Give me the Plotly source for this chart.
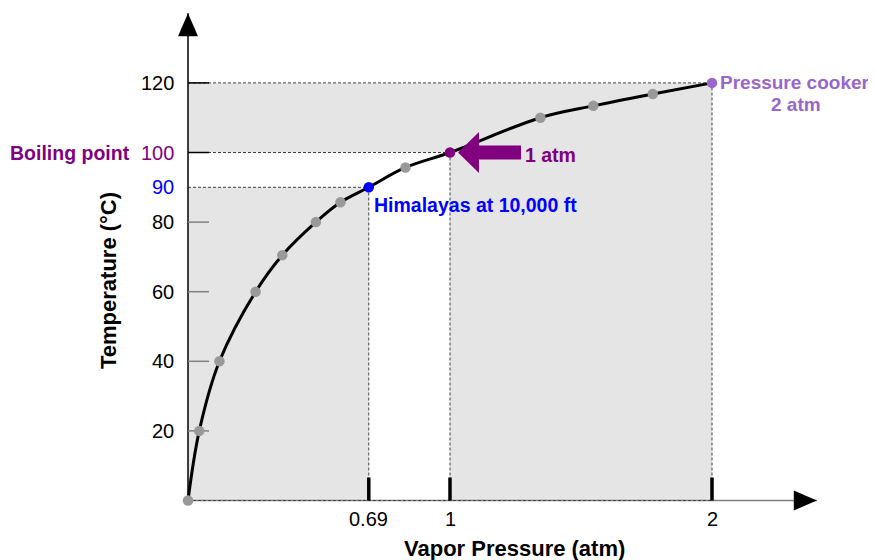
import plotly.graph_objects as go

# ---------------- data ----------------
pressure_atm = [0.0, 0.043, 0.120, 0.258, 0.360, 0.488, 0.582, 0.69, 0.830, 1.0, 1.345, 1.547, 1.774, 2.0]
temperature_c = [0, 20, 40, 60, 70.5, 80, 85.7, 90, 95.7, 100, 110, 113.4, 116.8, 120]

highlight_x = [0.69, 1.0, 2.0]
highlight_y = [90, 100, 120]
highlight_colors = ["#0000ff", "#800080", "#9966cc"]

ytick_vals = [20, 40, 60, 80, 90, 100, 120]
ytick_text = ["20", "40", "60", "80", "90", "100", "120"]
ytick_colors = ["#000000", "#000000", "#000000", "#000000", "#0000ff", "#800080", "#000000"]
ytick_marks = [20, 40, 60, 80, 100, 120]
ytick_mark_colors = ["#808080", "#808080", "#808080", "#808080", "#000000", "#000000"]

xtick_vals = [0.69, 1.0, 2.0]
xtick_text = ["0.69", "1", "2"]

x_axis_end = 2.40
y_axis_end = 140.0

FONT = "Liberation Sans, Arial, sans-serif"
PURPLE = "#800080"
BLUE = "#0000ff"
LILAC = "#9966cc"
GREY_FILL = "#e5e5e5"
DASH_COLOR = "#404040"

# page offset (browser body margin)
OFF = 8
W, H = 876 - OFF, 560 - OFF
X0_PX, X_SCALE = 188.0 - OFF, 262.0
Y0_PX, Y_SCALE = 500.5 - OFF, 3.48

fig = go.Figure()

# smooth curve
fig.add_trace(go.Scatter(
    x=pressure_atm, y=temperature_c, mode="lines",
    line=dict(color="black", width=3, shape="spline", smoothing=1.0),
    hoverinfo="skip", showlegend=False, cliponaxis=False))

hl = list(zip(highlight_x, highlight_y))
gx = [p for p, t in zip(pressure_atm, temperature_c) if (p, t) not in hl]
gy = [t for p, t in zip(pressure_atm, temperature_c) if (p, t) not in hl]
fig.add_trace(go.Scatter(
    x=gx, y=gy, mode="markers",
    marker=dict(color="#999999", size=10.5, line=dict(width=0)),
    showlegend=False, cliponaxis=False))

fig.add_trace(go.Scatter(
    x=highlight_x, y=highlight_y, mode="markers",
    marker=dict(color=highlight_colors, size=10.5, line=dict(width=0)),
    showlegend=False, cliponaxis=False))

shapes = []
shapes.append(dict(type="rect", xref="x", yref="y", x0=0, x1=highlight_x[2], y0=0, y1=highlight_y[2],
                   fillcolor=GREY_FILL, line=dict(width=0), layer="below"))
shapes.append(dict(type="rect", xref="x", yref="y", x0=0, x1=highlight_x[1], y0=highlight_y[0], y1=highlight_y[1],
                   fillcolor="white", line=dict(width=0), layer="below"))
shapes.append(dict(type="rect", xref="x", yref="y", x0=highlight_x[0], x1=highlight_x[1], y0=0, y1=highlight_y[1],
                   fillcolor="white", line=dict(width=0), layer="below"))

dash = dict(color=DASH_COLOR, width=1, dash="3px,2px")
for hx, hy in zip(highlight_x, highlight_y):
    shapes.append(dict(type="line", xref="x", yref="y", x0=0, x1=hx, y0=hy, y1=hy, line=dash, layer="below"))
    shapes.append(dict(type="line", xref="x", yref="y", x0=hx, x1=hx, y0=0, y1=hy, line=dash, layer="below"))

shapes.append(dict(type="line", xref="x", yref="y", x0=0, x1=x_axis_end, y0=0, y1=0,
                   line=dict(color="#808080", width=1.5), layer="below"))
shapes.append(dict(type="line", xref="x", yref="y", x0=0, x1=highlight_x[2], y0=0, y1=0, line=dash, layer="below"))
shapes.append(dict(type="line", xref="x", yref="y", x0=0, x1=0, y0=0, y1=y_axis_end,
                   line=dict(color="black", width=1.5), layer="below"))

shapes.append(dict(type="path", xref="x", yref="y", xsizemode="pixel", ysizemode="pixel",
                   xanchor=x_axis_end, yanchor=0, path="M -23,-10 L 0,0 L -23,10 Z",
                   fillcolor="black", line=dict(width=0)))
shapes.append(dict(type="path", xref="x", yref="y", xsizemode="pixel", ysizemode="pixel",
                   xanchor=0, yanchor=y_axis_end, path="M -10,-23 L 0,0 L 10,-23 Z",
                   fillcolor="black", line=dict(width=0)))

for v, c in zip(ytick_marks, ytick_mark_colors):
    shapes.append(dict(type="line", xref="x", yref="y", xsizemode="pixel", xanchor=0,
                       x0=0, x1=21, y0=v, y1=v, line=dict(color=c, width=1.5), layer="below"))
for v in xtick_vals:
    shapes.append(dict(type="line", xref="x", yref="y", ysizemode="pixel", yanchor=0,
                       x0=v, x1=v, y0=0, y1=23, line=dict(color="black", width=3.5), layer="below"))

shapes.append(dict(type="path", xref="x", yref="y", xsizemode="pixel", ysizemode="pixel",
                   xanchor=highlight_x[1], yanchor=highlight_y[1],
                   path="M 8,0 L 29,20.5 L 29,7 L 71,7 L 71,-7 L 29,-7 L 29,-20.5 Z",
                   fillcolor=PURPLE, line=dict(width=0)))

annotations = []
for v, t, c in zip(ytick_vals, ytick_text, ytick_colors):
    annotations.append(dict(x=0, y=v, xref="x", yref="y", text=t, showarrow=False,
                            xanchor="right", yanchor="middle", xshift=-12,
                            font=dict(family=FONT, size=20, color=c)))
for v, t in zip(xtick_vals, xtick_text):
    annotations.append(dict(x=v, y=0, xref="x", yref="y", text=t, showarrow=False,
                            xanchor="center", yanchor="middle", yshift=-18,
                            font=dict(family=FONT, size=20, color="black")))

annotations += [
    dict(x=0, y=highlight_y[1], xref="x", yref="y", text="<b>Boiling point</b>", showarrow=False,
         xanchor="right", yanchor="middle", xshift=-56, font=dict(family=FONT, size=19.5, color=PURPLE)),
    dict(x=highlight_x[1], y=highlight_y[1], xref="x", yref="y", text="<b>1 atm</b>", showarrow=False,
         xanchor="left", yanchor="middle", xshift=73, yshift=-2, font=dict(family=FONT, size=19.5, color=PURPLE)),
    dict(x=highlight_x[0], y=highlight_y[0], xref="x", yref="y", text="<b>Himalayas at 10,000 ft</b>",
         showarrow=False, xanchor="left", yanchor="middle", xshift=3, yshift=-18,
         font=dict(family=FONT, size=19.5, color=BLUE)),
    dict(x=highlight_x[2], y=highlight_y[2], xref="x", yref="y", text="<b>Pressure cooker</b>",
         showarrow=False, xanchor="left", yanchor="middle", xshift=6, yshift=0,
         font=dict(family=FONT, size=19, color=LILAC)),
    dict(x=highlight_x[2], y=highlight_y[2], xref="x", yref="y", text="<b>2 atm</b>",
         showarrow=False, xanchor="center", yanchor="middle", xshift=84, yshift=-21.5,
         font=dict(family=FONT, size=19, color=LILAC)),
    dict(x=(514.5 - OFF) / W, y=1 - (548 - OFF) / H, xref="paper", yref="paper", text="<b>Vapor Pressure (atm)</b>",
         showarrow=False, xanchor="center", yanchor="middle", font=dict(family=FONT, size=22, color="black")),
    dict(x=(108 - OFF) / W, y=1 - (281 - OFF) / H, xref="paper", yref="paper", text="<b>Temperature (°C)</b>",
         showarrow=False, xanchor="center", yanchor="middle", textangle=-90,
         font=dict(family=FONT, size=22, color="black")),
]

fig.update_layout(
    width=W, height=H,
    margin=dict(l=0, r=0, t=0, b=0),
    paper_bgcolor="white", plot_bgcolor="white",
    xaxis=dict(range=[-X0_PX / X_SCALE, (W - X0_PX) / X_SCALE], visible=False, fixedrange=True),
    yaxis=dict(range=[-(H - Y0_PX) / Y_SCALE, Y0_PX / Y_SCALE], visible=False, fixedrange=True),
    shapes=shapes, annotations=annotations,
    showlegend=False,
)

fig.write_html("out.html")
